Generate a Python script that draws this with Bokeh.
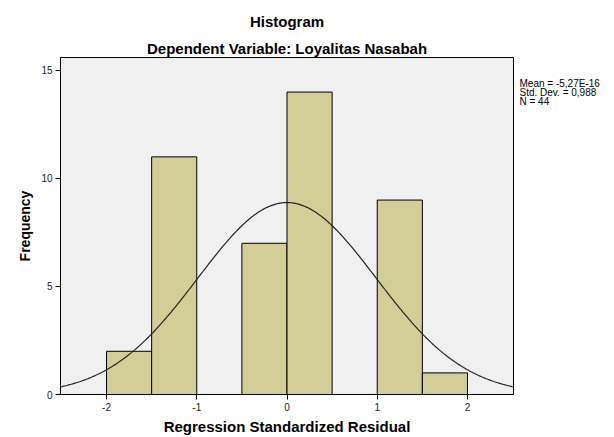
import numpy as np
from bokeh.plotting import figure
from bokeh.models import Title, FixedTicker, Range1d, LinearAxis, AllLabels
from bokeh.embed import file_html
from bokeh.resources import INLINE

# Data
bin_left = [-2.0, -1.5, -1.0, -0.5, 0.0, 0.5, 1.0, 1.5]
bin_right = [-1.5, -1.0, -0.5, 0.0, 0.5, 1.0, 1.5, 2.0]
counts = [2, 11, 0, 7, 14, 0, 9, 1]
mean_val = -5.27e-16
std_val = 0.988
n_val = 44
x_ticks = [-2, -1, 0, 1, 2]
y_ticks = [0, 5, 10, 15]
stats_lines = ["Mean = -5,27E-16", "Std. Dev. = 0,988", "N = 44"]

FONT = "Liberation Sans"
W, H = 612, 437
FL, FT, FR, FB = 60, 57, 513, 395  # frame edges on canvas
Y0, Y1 = 0, 15.6

p = figure(width=W, height=H, output_backend="svg", toolbar_location=None,
           x_range=Range1d(-2.51, 2.51), y_range=Range1d(Y0, Y1),
           min_border_left=FL, min_border_right=W - FR, min_border_top=FT,
           min_border_bottom=H - FB)
p.background_fill_color = "#f0f0f0"
p.border_fill_color = "white"
p.outline_line_color = "black"
p.outline_line_width = 1
p.xgrid.visible = False
p.ygrid.visible = False

# titles (the added title sits nearer the frame)
p.title.text = "Histogram"
p.title.text_font = FONT
p.title.text_font_size = "15px"
p.title.text_font_style = "bold"
p.title.text_color = "black"
p.title.align = "center"
p.title.offset = 3
p.title.standoff = 15
t2 = Title(text="Dependent Variable: Loyalitas Nasabah", text_font=FONT,
           text_font_size="15px", text_font_style="bold", text_color="black",
           align="center", offset=3, standoff=1)
p.add_layout(t2, "above")

p.quad(left=bin_left, right=bin_right, bottom=0, top=counts,
       fill_color="#d3ce97", line_color="black", line_width=1)

bw = bin_right[0] - bin_left[0]
xs = np.linspace(-2.51, 2.51, 300)
ys = n_val * bw * np.exp(-0.5 * ((xs - mean_val) / std_val) ** 2) / (std_val * np.sqrt(2 * np.pi))
p.line(xs, ys, line_color="#222222", line_width=1.2)

for ax, ticks in ((p.xaxis[0], x_ticks), (p.yaxis[0], y_ticks)):
    ax.ticker = FixedTicker(ticks=ticks)
    ax.major_label_overrides = {t: str(t) for t in ticks}
    ax.minor_tick_line_color = None
    ax.major_tick_out = 5
    ax.major_tick_in = 0
    ax.axis_line_color = "black"
    ax.major_tick_line_color = "black"
    ax.major_label_text_font = FONT
    ax.major_label_text_font_size = "10px"
    ax.major_label_text_color = "#222222"
    ax.major_label_standoff = 3
    ax.axis_label_text_font = FONT
    ax.axis_label_text_font_style = "bold"
    ax.axis_label_text_color = "black"
p.yaxis.major_label_orientation = "horizontal"
p.xaxis.axis_label = "Regression Standardized Residual"
p.xaxis.axis_label_text_font_size = "15px"
p.xaxis.axis_label_standoff = 4
p.yaxis.axis_label = "Frequency"
p.yaxis.axis_label_text_font_size = "14px"
p.yaxis.axis_label_standoff = 5

# statistics text, placed in the right margin as an unticked axis
def cy_to_data(cy):
    return Y1 - (cy - FT) * (Y1 - Y0) / (FB - FT)

stat_pos = [cy_to_data(c) for c in (83, 92, 101)]
rax = LinearAxis(ticker=FixedTicker(ticks=stat_pos),
                 major_label_overrides={v: s for v, s in zip(stat_pos, stats_lines)},
                 major_label_policy=AllLabels(),
                 axis_line_color=None, major_tick_line_color=None,
                 minor_tick_line_color=None, major_tick_out=0, major_tick_in=0,
                 major_label_standoff=6, major_label_text_font=FONT,
                 major_label_text_font_size="10px", major_label_text_color="black")
p.add_layout(rax, "right")

open("out.html", "w").write(file_html(p, INLINE))
